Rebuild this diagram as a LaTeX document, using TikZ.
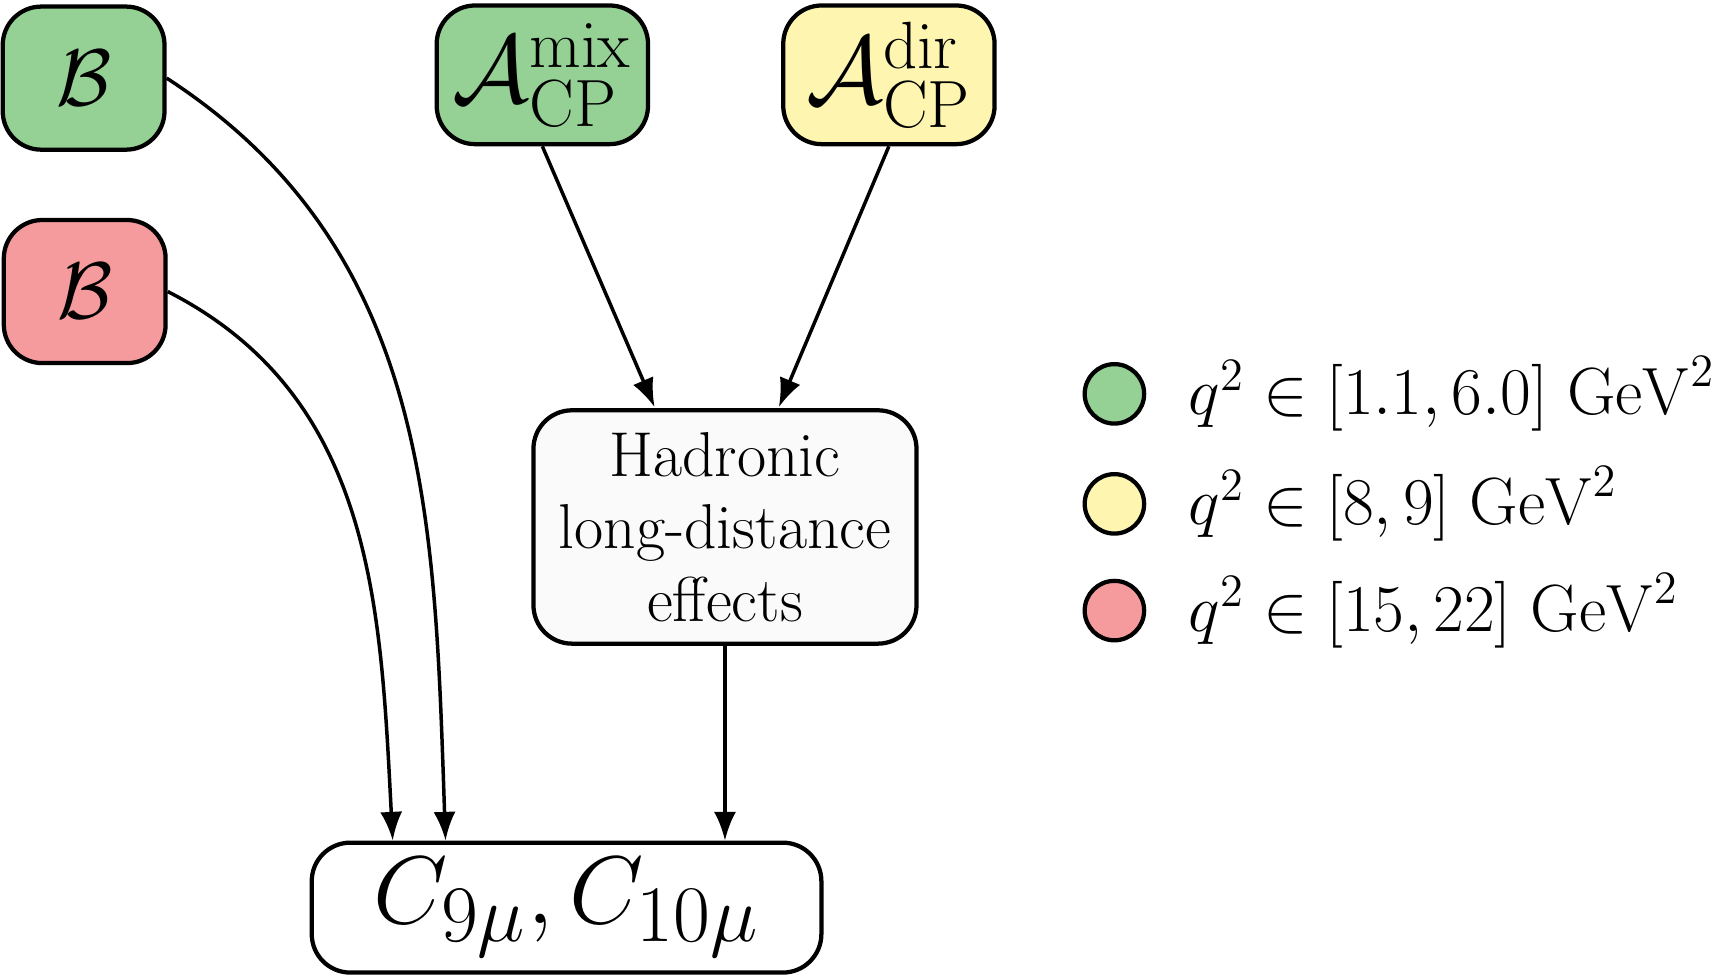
\documentclass[tikz,border=0pt]{standalone}
\usetikzlibrary{arrows.meta}
\definecolor{cgreen}{HTML}{95D095}
\definecolor{cyellow}{HTML}{FDF5B0}
\definecolor{cred}{HTML}{F59B9E}
\begin{document}
\begin{tikzpicture}[x=0.01cm,y=-0.01cm,
 box/.style={draw,line width=1.1pt,rounded corners=0.35cm,inner sep=0pt},
 obs/.style={box,minimum width=1.47cm,minimum height=1.3cm,font=\fontsize{22}{26}\selectfont},
 acp/.style={box,minimum width=1.92cm,minimum height=1.26cm,font=\fontsize{23.5}{27}\selectfont},
 arr/.style={-{Latex[length=2.6mm,width=2mm]},line width=0.9pt},
 dot/.style={circle,draw,line width=1.1pt,minimum size=0.54cm,inner sep=0pt},
 lab/.style={anchor=west,font=\fontsize{16.5}{19}\selectfont}]
\useasboundingbox (0,0) rectangle (1568,887);
\node[obs,fill=cgreen] (bg) at (76,71) {$\mathcal{B}$};
\node[obs,fill=cred] (br) at (77,265) {$\mathcal{B}$};
\node[acp,fill=cgreen] (am) at (493,68) {$\mathcal{A}_{\mathrm{CP}}^{\mathrm{mix}}$};
\node[acp,fill=cyellow] (ad) at (808,68) {$\mathcal{A}_{\mathrm{CP}}^{\mathrm{dir}}$};
\node[box,fill=black!2,minimum width=3.48cm,minimum height=2.12cm,align=center,font=\fontsize{16.4}{18.8}\selectfont] (h) at (659,479) {Hadronic\\long-distance\\effects};
\node[box,minimum width=4.63cm,minimum height=1.18cm,font=\fontsize{29.5}{32}\selectfont] (c) at (515,825) {$C_{9\mu},C_{10\mu}$};
\coordinate (cg) at (405,764);
\coordinate (cr) at (357,764);
\coordinate (ht1) at (595,370);
\coordinate (ht2) at (708,370);
\draw[arr] (bg.east) to[out=-33,in=92] (cg);
\draw[arr] (br.east) to[out=-27,in=93] (cr);
\draw[arr] (am.south) -- (ht1);
\draw[arr] (ad.south) -- (ht2);
\draw[arr] (h.south) -- (h.south |- c.north);
\node[dot,fill=cgreen] (d1) at (1013,358) {};
\node[dot,fill=cyellow] (d2) at (1013,458) {};
\node[dot,fill=cred] (d3) at (1013,555) {};
\node[lab] (l1) at (1068,358) {$q^2\in[1.1,6.0]~\mathrm{GeV}^2$};
\node[lab] (l2) at (1068,458) {$q^2\in[8,9]~\mathrm{GeV}^2$};
\node[lab] (l3) at (1068,555) {$q^2\in[15,22]~\mathrm{GeV}^2$};
\end{tikzpicture}
\end{document}
